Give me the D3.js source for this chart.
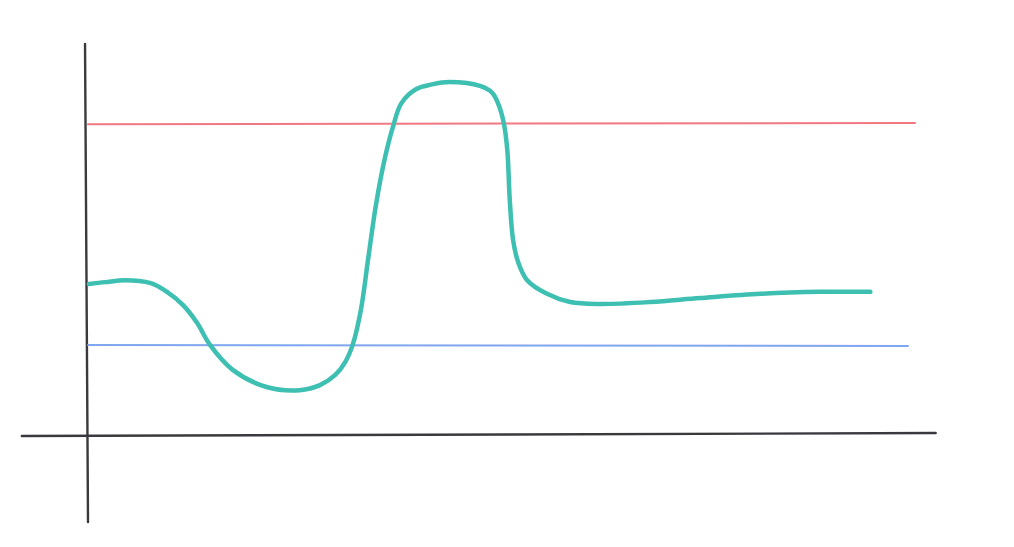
<!DOCTYPE html>
<html><head><meta charset="utf-8">
<script src="https://cdn.jsdelivr.net/npm/d3@7"></script>
<style>html,body{margin:0;padding:0;background:#fff}</style>
</head><body>
<svg id="c" width="1014" height="547"></svg>
<script>
// Sketch curve (x, y in chart units)
const curveX = [0.1,2.1,4.5,7.5,9.55,11.5,13.2,14.75,17.5,21.6,25.6,28.05,29.9,31.1,32.0,33.0,33.86,34.82,35.9,36.9,37.9,39.7,41.6,43.7,47.4,48.9,49.8,50.3,50.7,51.0,51.4,52.0,53.1,55.5,58.3,61.9,68.0,74.0,81.3,88.5,94.6];
const curveY = [38.7,39.2,39.7,39.0,36.7,33.3,28.7,23.1,16.7,12.3,11.5,12.8,15.4,18.7,23.1,32.1,44.9,59.0,71.0,79.2,85.1,88.7,89.9,90.5,89.5,87.7,83.8,79.7,73.1,60.3,50.0,44.4,39.7,36.2,34.1,33.6,34.1,35.1,36.2,36.7,36.7];
// Upper (red) and lower (blue) reference lines: [x0, y0, x1, y1]
const upperLine = [0, 79.7, 100, 80.0];
const lowerLine = [0, 23.1, 99.15, 22.8];
// Axes endpoints
const xAxisLine = [-8, -0.26, 102.5, 0.5];
const yAxisLine = [-0.36, 100.3, 0, -22.3];

const svg = d3.select("#c");
const x = d3.scaleLinear().domain([0,100]).range([88,915]);
const y = d3.scaleLinear().domain([0,100]).range([435,45]);

function seg(a, color, w){
  svg.append("line").attr("x1",x(a[0])).attr("y1",y(a[1])).attr("x2",x(a[2])).attr("y2",y(a[3]))
    .attr("stroke",color).attr("stroke-width",w).attr("stroke-linecap","round");
}
seg(xAxisLine,"#3a3a3e",2.4);
seg(yAxisLine,"#3a3a3e",2.4);
seg(upperLine,"#f07880",2);
seg(lowerLine,"#7fa6ee",2);

const pts = curveX.map((v,i)=>[v,curveY[i]]);
const line = d3.line().x(d=>x(d[0])).y(d=>y(d[1])).curve(d3.curveCatmullRom.alpha(0.5));
svg.append("path").datum(pts).attr("d",line).attr("fill","none")
  .attr("stroke","#3dbfb1").attr("stroke-width",4.5).attr("stroke-linecap","round").attr("stroke-linejoin","round");
</script>
</body></html>
